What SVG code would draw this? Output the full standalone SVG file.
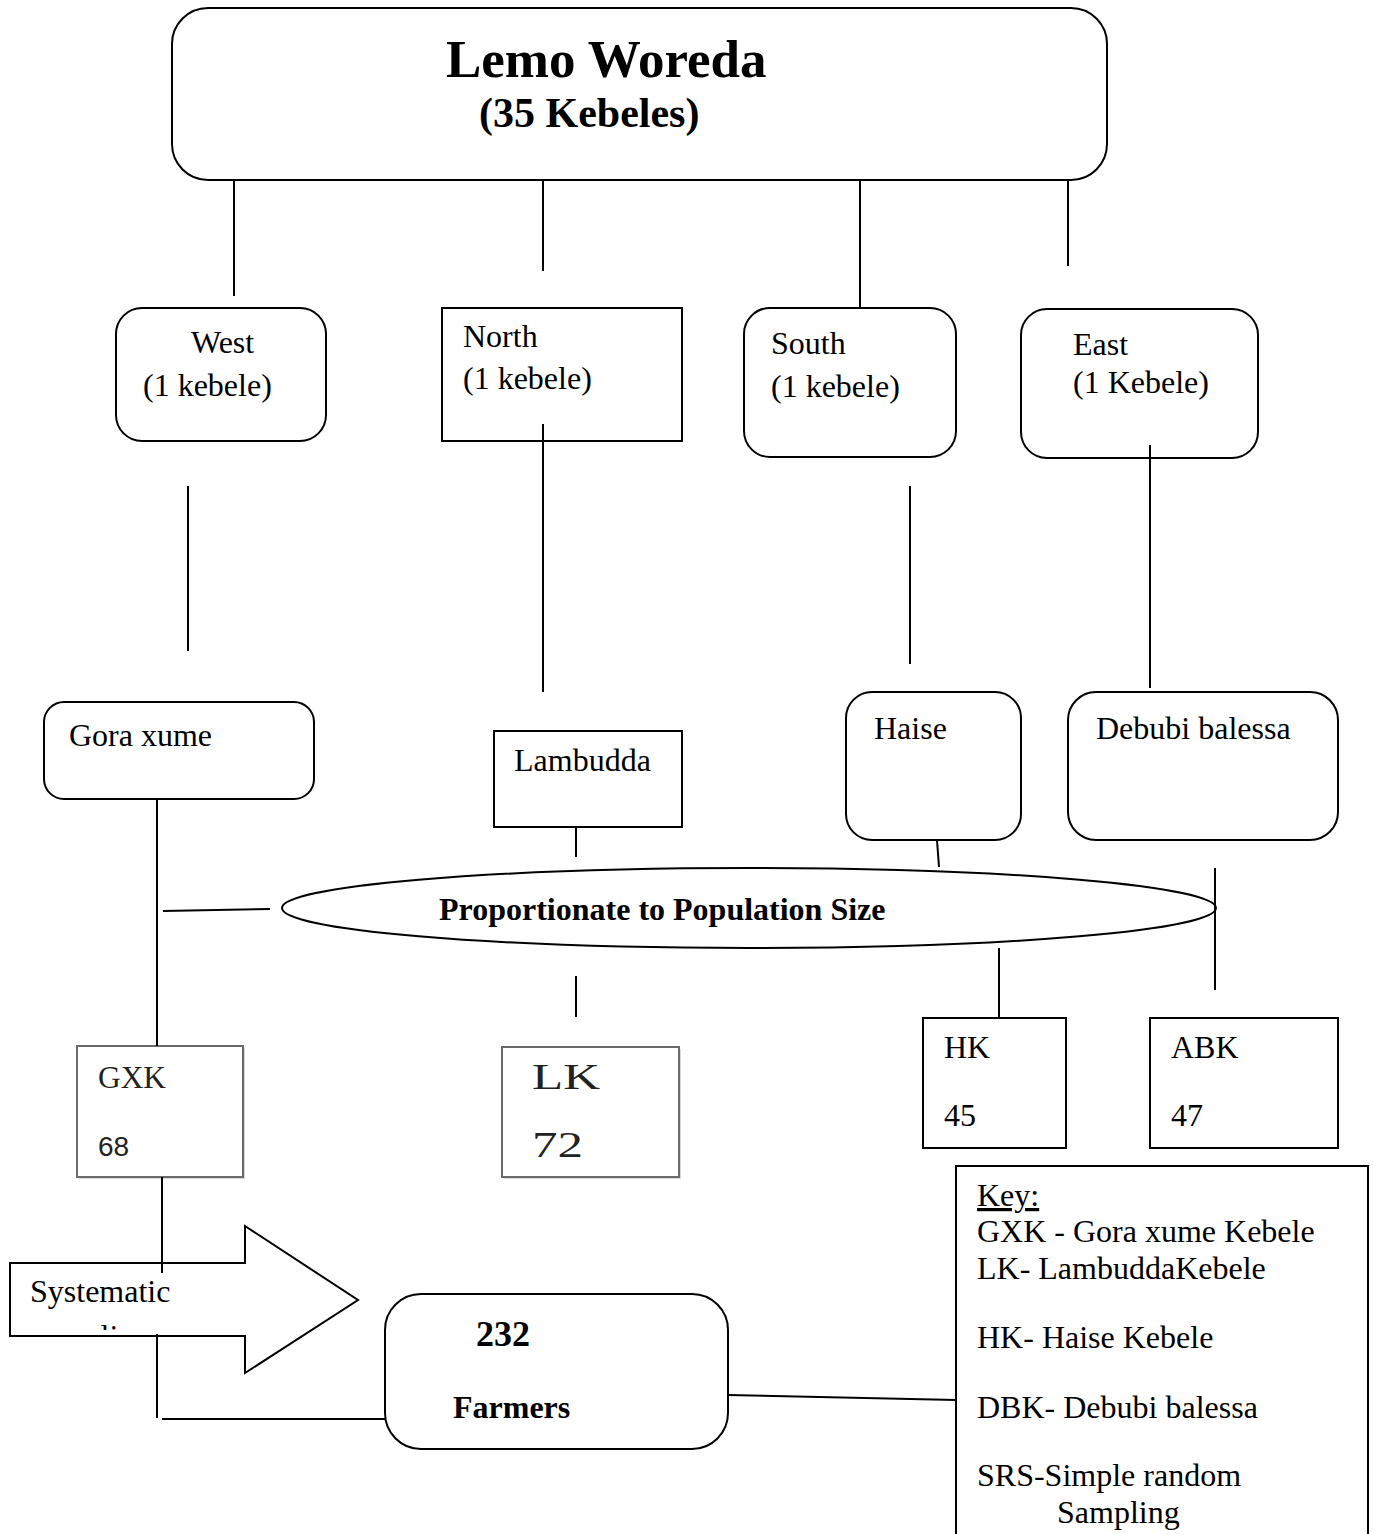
<svg xmlns="http://www.w3.org/2000/svg" width="1373" height="1534" viewBox="0 0 1373 1534">
<style>
.box{fill:#fff;stroke:#000;stroke-width:2}
.sh{fill:#fff;stroke:#6a6a6a;stroke-width:2}
.t{font-family:"Liberation Serif","Times New Roman",serif;font-size:32px;fill:#000}
.b{font-weight:bold}
.m{font-family:"Liberation Serif","Times New Roman",serif;fill:#222}
.ln{stroke:#000;stroke-width:2;fill:none}
</style>
<defs>
<clipPath id="arrowclip"><rect x="0" y="1250" width="400" height="80"/></clipPath>
</defs>
<g id="top">
<rect class="box" x="172" y="8" width="935" height="172" rx="36"/>
<text class="t b" x="446" y="77" style="font-size:53px">Lemo Woreda</text>
<text class="t b" x="479" y="127" style="font-size:42px">(35 Kebeles)</text>
</g>
<g id="west">
<rect class="box" x="116" y="308" width="210" height="133" rx="26"/>
<text class="t" x="191" y="353">West</text>
<text class="t" x="143" y="396">(1 kebele)</text>
</g>
<g id="north">
<rect class="box" x="442" y="308" width="240" height="133"/>
<text class="t" x="463" y="347">North</text>
<text class="t" x="463" y="389">(1 kebele)</text>
</g>
<g id="south">
<rect class="box" x="744" y="308" width="212" height="149" rx="26"/>
<text class="t" x="771" y="354">South</text>
<text class="t" x="771" y="397">(1 kebele)</text>
</g>
<g id="east">
<rect class="box" x="1021" y="309" width="237" height="149" rx="26"/>
<text class="t" x="1073" y="355">East</text>
<text class="t" x="1073" y="393">(1 Kebele)</text>
</g>
<g id="gora">
<rect class="box" x="44" y="702" width="270" height="97" rx="20"/>
<text class="t" x="69" y="746">Gora xume</text>
</g>
<g id="lambudda">
<rect class="box" x="494" y="731" width="188" height="96"/>
<text class="t" x="514" y="771">Lambudda</text>
</g>
<g id="haise">
<rect class="box" x="846" y="692" width="175" height="148" rx="26"/>
<text class="t" x="874" y="739">Haise</text>
</g>
<g id="debubi">
<rect class="box" x="1068" y="692" width="270" height="148" rx="28"/>
<text class="t" x="1096" y="739">Debubi balessa</text>
</g>
<g id="pps">
<ellipse class="box" cx="749" cy="908" rx="467" ry="40"/>
<text class="t b" x="439" y="920">Proportionate to Population Size</text>
</g>
<g id="gxk">
<rect x="79" y="1048" width="166" height="131" fill="#d8d8d8"/>
<rect class="sh" x="77" y="1046" width="166" height="131"/>
<text class="m" x="98" y="1088" style="font-size:31px" textLength="68" lengthAdjust="spacingAndGlyphs">GXK</text>
<text x="98" y="1156" style="font-family:'Liberation Sans',Arial,sans-serif;font-size:28px;fill:#222">68</text>
</g>
<g id="lk">
<rect x="504" y="1049" width="177" height="130" fill="#d8d8d8"/>
<rect class="sh" x="502" y="1047" width="177" height="130"/>
<text class="m" x="532" y="1089" style="font-size:36px" textLength="68" lengthAdjust="spacingAndGlyphs">LK</text>
<text class="m" x="532" y="1157" style="font-size:36px" textLength="51" lengthAdjust="spacingAndGlyphs">72</text>
</g>
<g id="hk">
<rect class="box" x="923" y="1018" width="143" height="130"/>
<text class="t" x="944" y="1058">HK</text>
<text class="t" x="944" y="1126">45</text>
</g>
<g id="abk">
<rect class="box" x="1150" y="1018" width="188" height="130"/>
<text class="t" x="1171" y="1058">ABK</text>
<text class="t" x="1171" y="1126">47</text>
</g>
<g id="systematic">
<polygon class="box" points="10,1263 245,1263 245,1226 358,1300 245,1373 245,1336 10,1336"/>
<text class="t" x="30" y="1302">Systematic</text>
<text class="t" x="33" y="1347" clip-path="url(#arrowclip)">sampling</text>
</g>
<g id="farmers">
<rect class="box" x="385" y="1294" width="343" height="155" rx="36"/>
<text class="t b" x="476" y="1346" style="font-size:36px">232</text>
<text class="t b" x="453" y="1418">Farmers</text>
</g>
<g id="key">
<rect class="box" x="956" y="1166" width="412" height="380"/>
<text class="t" x="977" y="1206" text-decoration="underline">Key:</text>
<text class="t" x="977" y="1242">GXK - Gora xume Kebele</text>
<text class="t" x="977" y="1279">LK- LambuddaKebele</text>
<text class="t" x="977" y="1348">HK- Haise Kebele</text>
<text class="t" x="977" y="1418">DBK- Debubi balessa</text>
<text class="t" x="977" y="1486">SRS-Simple random</text>
<text class="t" x="1057" y="1523">Sampling</text>
</g>
<g id="connectors">
<line class="ln" x1="234" y1="180" x2="234" y2="296"/>
<line class="ln" x1="543" y1="180" x2="543" y2="271"/>
<line class="ln" x1="860" y1="180" x2="860" y2="308"/>
<line class="ln" x1="1068" y1="180" x2="1068" y2="266"/>
<line class="ln" x1="188" y1="486" x2="188" y2="651"/>
<line class="ln" x1="543" y1="424" x2="543" y2="692"/>
<line class="ln" x1="910" y1="486" x2="910" y2="664"/>
<line class="ln" x1="1150" y1="445" x2="1150" y2="688"/>
<line class="ln" x1="157" y1="799" x2="157" y2="1046"/>
<line class="ln" x1="163" y1="911" x2="270" y2="909"/>
<line class="ln" x1="576" y1="827" x2="576" y2="857"/>
<line class="ln" x1="937" y1="840" x2="939" y2="867"/>
<line class="ln" x1="1215" y1="868" x2="1215" y2="990"/>
<line class="ln" x1="576" y1="976" x2="576" y2="1017"/>
<line class="ln" x1="999" y1="948" x2="999" y2="1018"/>
<line class="ln" x1="162" y1="1177" x2="162" y2="1273"/>
<line class="ln" x1="157" y1="1334" x2="157" y2="1418"/>
<line class="ln" x1="162" y1="1419" x2="386" y2="1419"/>
<line class="ln" x1="728" y1="1395" x2="956" y2="1400"/>
</g>
</svg>
